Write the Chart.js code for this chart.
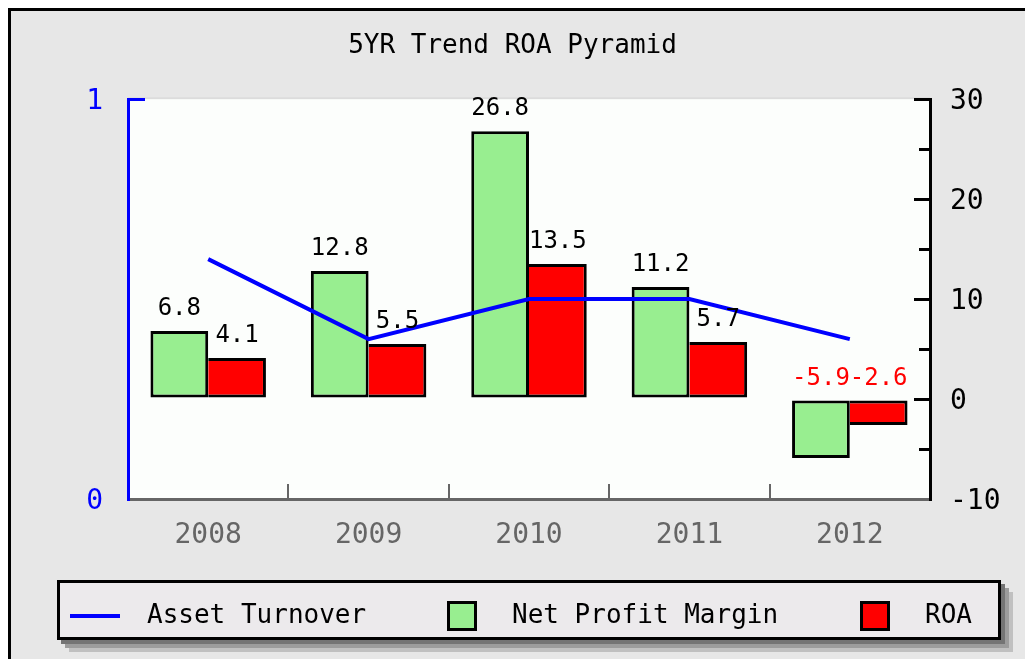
<!DOCTYPE html>
<html>
<head>
<meta charset="utf-8">
<script src="https://cdn.jsdelivr.net/npm/chart.js@4.4.1/dist/chart.umd.min.js"></script>
<style>
  html, body { margin: 0; padding: 0; background: #ffffff; }
  #wrap { width: 1025px; height: 659px; }
</style>
</head>
<body>
<div id="wrap"><canvas id="c" width="1025" height="659"></canvas></div>
<script>
// ---- data ----
const categories = ['2008', '2009', '2010', '2011', '2012'];
const assetTurnover = [0.6, 0.4, 0.5, 0.5, 0.4];
const netProfitMargin = [6.8, 12.8, 26.8, 11.2, -5.9];
const roa = [4.1, 5.5, 13.5, 5.7, -2.6];
const leftTicks = [0, 1];
const rightTicks = [-10, 0, 10, 20, 30];
const chartTitle = '5YR Trend ROA Pyramid';
const seriesNames = ['Asset Turnover', 'Net Profit Margin', 'ROA'];

const MONO = '"DejaVu Sans Mono", "Liberation Mono", monospace';
const GREEN = '#98ee90';
const RED = '#ff0000';
const BLUE = '#0000ff';

// background + frame + plot area
const bgPlugin = {
  id: 'bg',
  beforeDraw(chart) {
    const { ctx, width, height, chartArea } = chart;
    ctx.save();
    ctx.fillStyle = '#ffffff';
    ctx.fillRect(0, 0, width, height);
    ctx.fillStyle = '#e7e7e7';
    ctx.fillRect(8, 8, width, height);
    ctx.fillStyle = '#000000';
    ctx.fillRect(8, 8, width - 8, 3);
    ctx.fillRect(8, 8, 3, height - 8);
    ctx.fillStyle = '#dcdcdc';
    ctx.fillRect(chartArea.left, chartArea.top - 2, chartArea.right - chartArea.left, 2);
    ctx.fillStyle = '#fcfefc';
    ctx.fillRect(chartArea.left, chartArea.top, chartArea.right - chartArea.left, chartArea.bottom - chartArea.top);
    ctx.restore();
  }
};

// value labels above bars
const valueLabels = {
  id: 'valueLabels',
  afterDatasetsDraw(chart) {
    const { ctx } = chart;
    ctx.save();
    ctx.font = '24px ' + MONO;
    ctx.textAlign = 'center';
    ctx.textBaseline = 'alphabetic';
    chart.data.datasets.forEach((ds, i) => {
      if (ds.type !== 'bar') return;
      const meta = chart.getDatasetMeta(i);
      meta.data.forEach((el, j) => {
        const v = ds.data[j];
        const top = Math.min(el.y, el.base);
        ctx.fillStyle = v < 0 ? RED : '#000000';
        ctx.fillText(v.toFixed(1), el.x, top - 16);
      });
    });
    ctx.restore();
  }
};

// boxed legend with shadow
const boxLegend = {
  id: 'boxLegend',
  afterDraw(chart) {
    const { ctx, chartArea } = chart;
    const bx = chartArea.left - 71, by = chartArea.bottom + 81, bw = 944, bh = 60;
    ctx.save();
    [[12, '#c0c0c0'], [8, '#9c9c9c'], [4, '#747474']].forEach(([o, c]) => {
      ctx.fillStyle = c;
      ctx.fillRect(bx + o, by + o, bw, bh);
    });
    ctx.fillStyle = '#eceaec';
    ctx.fillRect(bx, by, bw, bh);
    ctx.lineWidth = 3;
    ctx.strokeStyle = '#000000';
    ctx.strokeRect(bx + 1.5, by + 1.5, bw - 3, bh - 3);
    const cy = by + bh / 2 + 6;
    ctx.font = '26px ' + MONO;
    ctx.textBaseline = 'middle';
    ctx.textAlign = 'left';
    const ds = chart.data.datasets;
    // line item
    ctx.fillStyle = ds[0].borderColor;
    ctx.fillRect(bx + 13, cy - 2, 50, 4);
    ctx.fillStyle = '#000000';
    ctx.fillText(ds[0].label, bx + 90, cy);
    // bar items
    const items = [[1, 390, 455], [2, 803, 868]];
    items.forEach(([k, boxX, textX]) => {
      ctx.fillStyle = ds[k].backgroundColor;
      ctx.fillRect(bx + boxX, cy - 15, 30, 30);
      ctx.lineWidth = 3;
      ctx.strokeStyle = '#000000';
      ctx.strokeRect(bx + boxX + 1.5, cy - 13.5, 27, 27);
      ctx.fillStyle = '#000000';
      ctx.fillText(ds[k].label, bx + textX, cy);
    });
    ctx.restore();
  }
};

new Chart(document.getElementById('c'), {
  data: {
    labels: categories,
    datasets: [
      {
        type: 'line', label: seriesNames[0], data: assetTurnover, yAxisID: 'yL',
        borderColor: BLUE, backgroundColor: BLUE, borderWidth: 4, pointRadius: 0,
        tension: 0, fill: false, order: 0
      },
      {
        type: 'bar', label: seriesNames[1], data: netProfitMargin, yAxisID: 'yR',
        backgroundColor: GREEN, borderColor: '#000000',
        borderWidth: 3, borderSkipped: false,
        categoryPercentage: 0.72, barPercentage: 1.0, order: 1
      },
      {
        type: 'bar', label: seriesNames[2], data: roa, yAxisID: 'yR',
        backgroundColor: RED, borderColor: '#000000',
        borderWidth: { top: 3, right: 3, bottom: 3, left: 0 }, borderSkipped: false,
        categoryPercentage: 0.72, barPercentage: 1.0, order: 1
      }
    ]
  },
  options: {
    responsive: false,
    devicePixelRatio: 1,
    animation: false,
    layout: { padding: 0 },
    plugins: {
      legend: { display: false },
      tooltip: { enabled: false },
      title: {
        display: true, text: chartTitle, color: '#000000',
        font: { family: MONO, size: 26, weight: 'normal' },
        padding: { top: 31, bottom: 37 }
      }
    },
    scales: {
      x: {
        type: 'category', position: 'bottom', offset: true,
        grid: {
          offset: true, drawOnChartArea: false, drawTicks: true, tickLength: -15, lineWidth: 2,
          color: (c) => (c.type === 'tick' && c.index > 0) ? '#666666' : 'rgba(0,0,0,0)'
        },
        border: { display: true, color: '#666666', width: 3 },
        ticks: { color: '#666666', font: { family: MONO, size: 28 }, padding: 35, maxRotation: 0 },
        afterFit: (s) => { s.height = 160; }
      },
      yL: {
        type: 'linear', position: 'left', min: leftTicks[0], max: leftTicks[leftTicks.length - 1],
        afterBuildTicks: (s) => { s.ticks = leftTicks.map(v => ({ value: v })); },
        grid: { drawOnChartArea: false, tickLength: -17, color: BLUE, lineWidth: 3 },
        border: { display: true, color: BLUE, width: 3 },
        ticks: { color: BLUE, font: { family: MONO, size: 28 }, padding: 42, labelOffset: 3 },
        afterFit: (s) => { s.width = 128; }
      },
      yMinor: {
        type: 'linear', position: 'right', weight: 0, min: rightTicks[0], max: rightTicks[rightTicks.length - 1],
        ticks: { display: false, stepSize: 5 },
        grid: { drawOnChartArea: false, tickLength: -11, color: '#000000', lineWidth: 3 },
        border: { display: false },
        afterFit: (s) => { s.width = 0; }
      },
      yR: {
        type: 'linear', position: 'right', weight: 1, min: rightTicks[0], max: rightTicks[rightTicks.length - 1],
        afterBuildTicks: (s) => { s.ticks = rightTicks.map(v => ({ value: v })); },
        grid: { drawOnChartArea: false, tickLength: -16, color: '#000000', lineWidth: 3 },
        border: { display: true, color: '#000000', width: 3 },
        ticks: { color: '#000000', font: { family: MONO, size: 28 }, padding: 36, labelOffset: 3 },
        afterFit: (s) => { s.width = 95; }
      }
    }
  },
  plugins: [bgPlugin, valueLabels, boxLegend]
});
</script>
</body>
</html>
